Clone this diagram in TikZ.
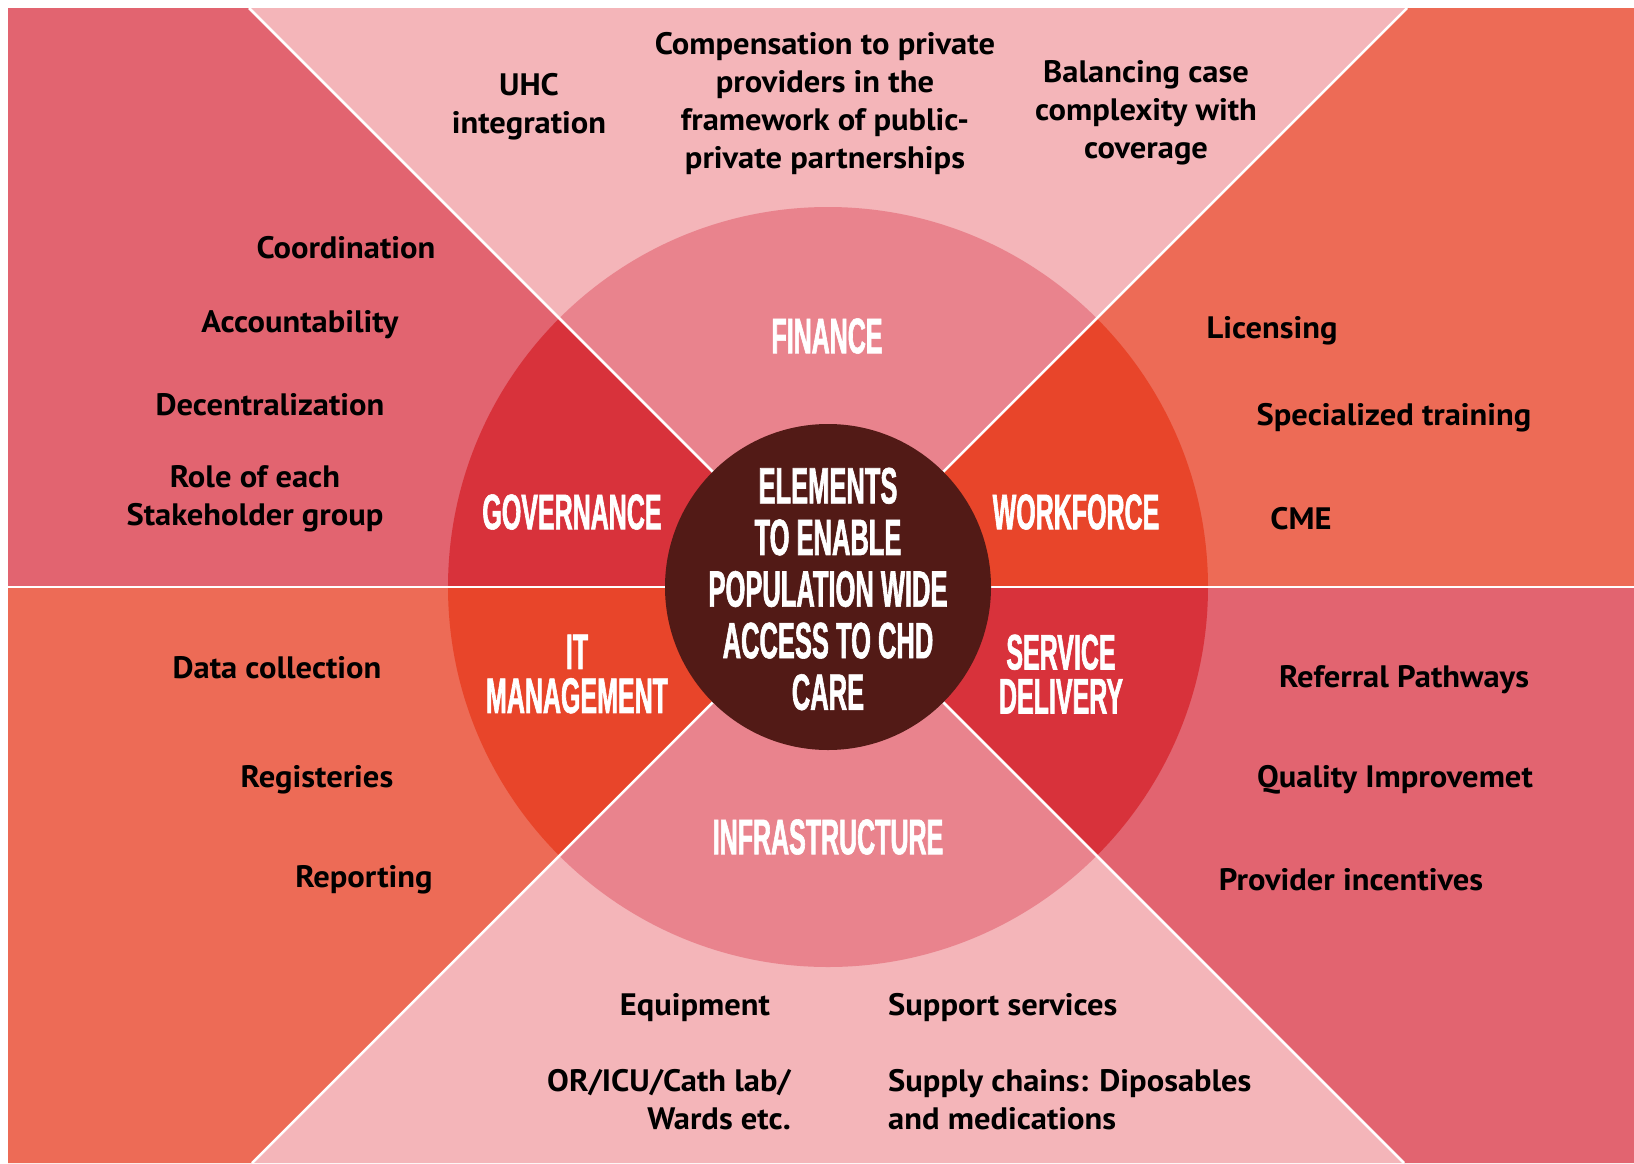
\documentclass[tikz,border=0pt]{standalone}
\usepackage{fontspec}
\setmainfont{PT Sans}
\newfontfamily\bodyfont[FakeStretch=1.05]{PT Sans}
\newfontfamily\headfont[FakeStretch=0.5,FakeBold=1.2]{Liberation Sans}
\definecolor{lightpink}{HTML}{F4B5B9}
\definecolor{midpink}{HTML}{E9838D}
\definecolor{rosered}{HTML}{E26470}
\definecolor{deepred}{HTML}{D8323B}
\definecolor{salmon}{HTML}{ED6B56}
\definecolor{vermilion}{HTML}{E8452A}
\definecolor{darkbrown}{HTML}{521A16}
\tikzset{
  bodytext/.style={font=\bodyfont\bfseries\fontsize{31}{38}\selectfont, text=black, align=center, inner sep=0pt},
  headtext/.style={font=\headfont\bfseries\fontsize{50}{44}\selectfont, text=white, align=center, inner sep=0pt},
  centertext/.style={font=\headfont\bfseries\fontsize{51}{51.6}\selectfont, text=white, align=center, inner sep=0pt},
  divider/.style={draw=white, line width=2.5pt}
}
\begin{document}
\begin{tikzpicture}[x=1pt,y=-1pt]
\useasboundingbox (0,0) rectangle (1634,1163);
\coordinate (C) at (828,587);
\coordinate (TL) at (8,8);
\coordinate (TA) at (249,8);
\coordinate (TB) at (1407,8);
\coordinate (TR) at (1634,8);
\coordinate (ML) at (8,587);
\coordinate (MR) at (1634,587);
\coordinate (BL) at (8,1163);
\coordinate (BA) at (252,1163);
\coordinate (BB) at (1404,1163);
\coordinate (BR) at (1634,1163);
% outer regions
\fill[lightpink] (TA) -- (TB) -- (C) -- cycle;
\fill[rosered] (TL) -- (TA) -- (C) -- (ML) -- cycle;
\fill[salmon] (TB) -- (TR) -- (MR) -- (C) -- cycle;
\fill[salmon] (ML) -- (C) -- (BA) -- (BL) -- cycle;
\fill[rosered] (C) -- (MR) -- (BR) -- (BB) -- cycle;
\fill[lightpink] (BA) -- (C) -- (BB) -- cycle;
% inner sectors
\begin{scope}\clip (TA) -- (TB) -- (C) -- cycle; \fill[midpink] (C) circle (380); \end{scope}
\begin{scope}\clip (TL) -- (TA) -- (C) -- (ML) -- cycle; \fill[deepred] (C) circle (380); \end{scope}
\begin{scope}\clip (TB) -- (TR) -- (MR) -- (C) -- cycle; \fill[vermilion] (C) circle (380); \end{scope}
\begin{scope}\clip (ML) -- (C) -- (BA) -- (BL) -- cycle; \fill[vermilion] (C) circle (380); \end{scope}
\begin{scope}\clip (C) -- (MR) -- (BR) -- (BB) -- cycle; \fill[deepred] (C) circle (380); \end{scope}
\begin{scope}\clip (BA) -- (C) -- (BB) -- cycle; \fill[midpink] (C) circle (380); \end{scope}
% dividers
\draw[divider] (ML) -- (MR);
\draw[divider] (TA) -- (BB);
\draw[divider] (TB) -- (BA);
% centre
\fill[darkbrown] (C) circle (163);
\node[centertext] (centre) at (828,589) {ELEMENTS\\TO ENABLE\\POPULATION WIDE\\ACCESS TO CHD\\CARE};
% headings
\node[headtext] (finance) at (827,336) {FINANCE};
\node[headtext] (governance) at (572,512) {GOVERNANCE};
\node[headtext] (workforce) at (1076,512) {WORKFORCE};
\node[headtext] (itman) at (577,674) {IT\\MANAGEMENT};
\node[headtext] (service) at (1061,674) {SERVICE\\DELIVERY};
\node[headtext] (infra) at (828,837) {INFRASTRUCTURE};
% finance items
\node[bodytext] (uhc) at (529,107) {UHC\\integration};
\node[bodytext] (comp) at (825,104) {Compensation to private\\providers in the\\framework of public-\\private partnerships};
\node[bodytext] (bal) at (1146,113) {Balancing case\\complexity with\\coverage};
% governance items
\node[bodytext] (coord) at (346,248) {Coordination};
\node[bodytext] (acc) at (300,325) {Accountability};
\node[bodytext] (dec) at (270,405) {Decentralization};
\node[bodytext] (role) at (255,499) {Role of each\\Stakeholder group};
% workforce items
\node[bodytext] (lic) at (1272,331) {Licensing};
\node[bodytext] (spec) at (1394,418) {Specialized training};
\node[bodytext] (cme) at (1301,519) {CME};
% IT items
\node[bodytext] (data) at (277,668) {Data collection};
\node[bodytext] (reg) at (317,780) {Registeries};
\node[bodytext] (rep) at (364,880) {Reporting};
% service delivery items
\node[bodytext] (ref) at (1404,680) {Referral Pathways};
\node[bodytext] (qual) at (1395,780) {Quality Improvemet};
\node[bodytext] (prov) at (1351,880) {Provider incentives};
% infrastructure items
\node[bodytext] (equip) at (695,1008) {Equipment};
\node[bodytext, align=right, anchor=east] (oricu) at (791,1100) {OR/ICU/Cath lab/\\Wards etc.};
\node[bodytext, align=left, anchor=west] (supp) at (888,1008) {Support services};
\node[bodytext, align=left, anchor=west] (chain) at (888,1100) {Supply chains: Diposables\\and medications};
\end{tikzpicture}
\end{document}
